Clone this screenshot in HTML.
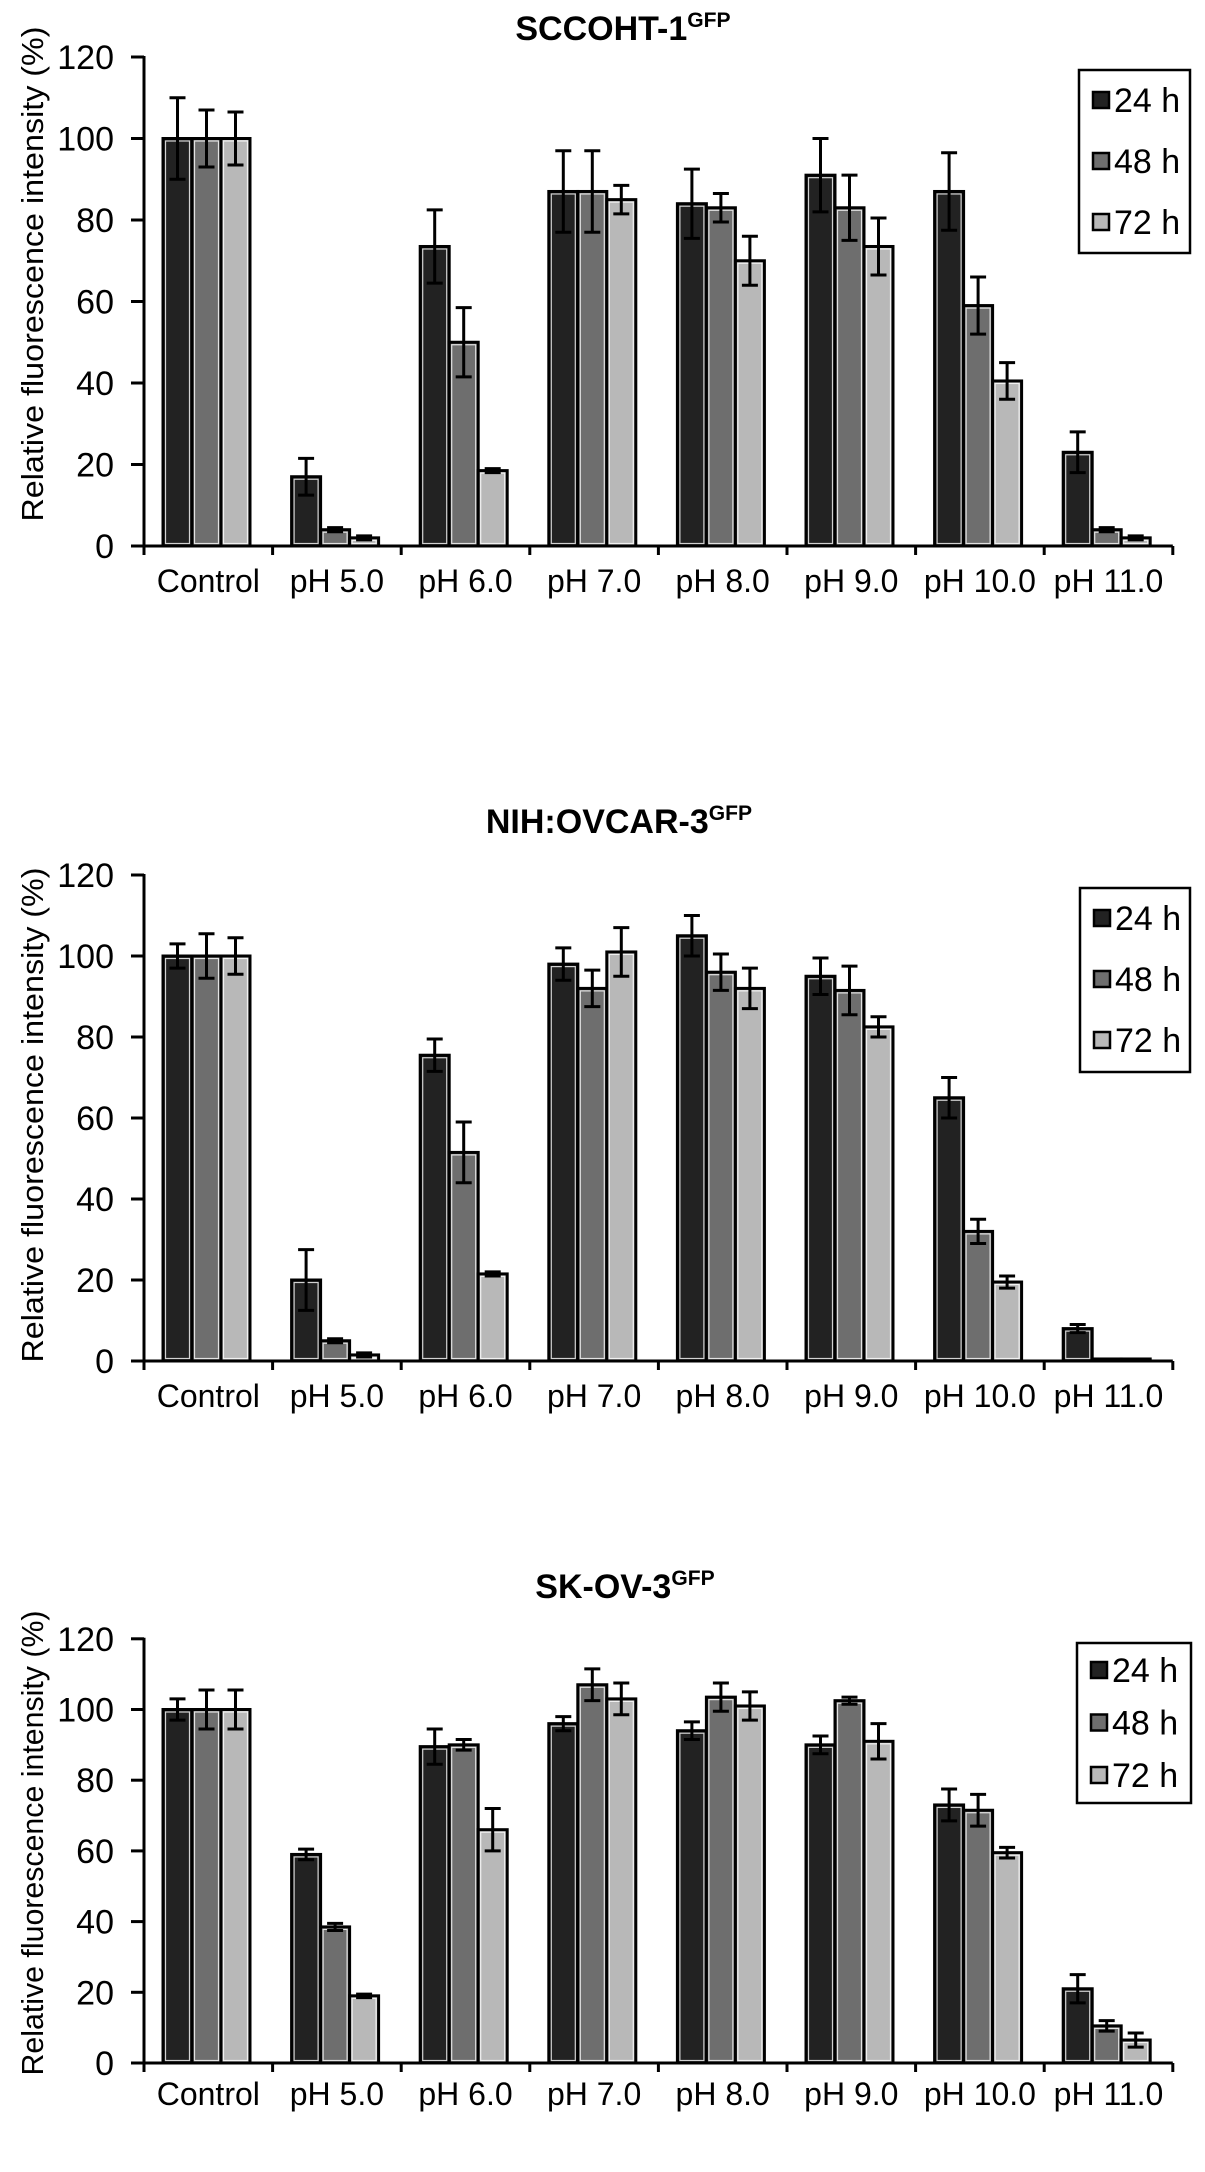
<!DOCTYPE html>
<html><head><meta charset="utf-8"><style>
html,body{margin:0;padding:0;background:#fff;}
svg{display:block;}
text{font-family:"Liberation Sans",Arial,sans-serif;fill:#000;}
</style></head><body>
<svg id="fig" width="1205" height="2172" viewBox="0 0 1205 2172" xmlns="http://www.w3.org/2000/svg"></svg>
<script>
const categories = ["Control","pH 5.0","pH 6.0","pH 7.0","pH 8.0","pH 9.0","pH 10.0","pH 11.0"];
const seriesNames = ["24 h","48 h","72 h"];
const yTicks = [0,20,40,60,80,100,120];
const c1_24 = [100,17,73.5,87,84,91,87,23];
const c1_48 = [100,4,50,87,83,83,59,4];
const c1_72 = [100,2,18.5,85,70,73.5,40.5,2];
const c1_e24 = [10,4.5,9,10,8.5,9,9.5,5];
const c1_e48 = [7,0.5,8.5,10,3.5,8,7,0.5];
const c1_e72 = [6.5,0.5,0.5,3.5,6,7,4.5,0.5];
const c2_24 = [100,20,75.5,98,105,95,65,8];
const c2_48 = [100,5,51.5,92,96,91.5,32,0.5];
const c2_72 = [100,1.5,21.5,101,92,82.5,19.5,0.5];
const c2_e24 = [3,7.5,4,4,5,4.5,5,1];
const c2_e48 = [5.5,0.5,7.5,4.5,4.5,6,3,0];
const c2_e72 = [4.5,0.5,0.5,6,5,2.5,1.5,0];
const c3_24 = [100,59,89.5,96,94,90,73,21];
const c3_48 = [100,38.5,90,107,103.5,102.5,71.5,10.5];
const c3_72 = [100,19,66,103,101,91,59.5,6.5];
const c3_e24 = [3,1.5,5,2,2.5,2.5,4.5,4];
const c3_e48 = [5.5,1,1.5,4.5,4,1,4.5,1.5];
const c3_e72 = [5.5,0.5,6,4.5,4,5,1.5,2];

const NS="http://www.w3.org/2000/svg";
const svg=document.getElementById('fig');
const fills=["#222222","#6e6e6e","#b8b8b8"];
function el(tag,attrs,parent){const e=document.createElementNS(NS,tag);for(const k in attrs)e.setAttribute(k,attrs[k]);(parent||svg).appendChild(e);return e;}

const charts=[
 {key:'c1',title:'SCCOHT-1',tfs:34,tx:623,ty:40,y0:546,unit:4.075,lab:592,ylc:274,yll:495,
  leg:{x:1079,y:70,w:111,h:183,r0:100,dr:61},vals:[c1_24,c1_48,c1_72],errs:[c1_e24,c1_e48,c1_e72]},
 {key:'c2',title:'NIH:OVCAR-3',tfs:34,tx:619,ty:833,y0:1361,unit:4.05,lab:1407,ylc:1115,yll:495,
  leg:{x:1080,y:888,w:110,h:184,r0:918,dr:61},vals:[c2_24,c2_48,c2_72],errs:[c2_e24,c2_e48,c2_e72]},
 {key:'c3',title:'SK-OV-3',tfs:34,tx:625,ty:1598,y0:2063,unit:3.535,lab:2105,ylc:1843,yll:465,
  leg:{x:1077,y:1643,w:114,h:160,r0:1670,dr:52.5},vals:[c3_24,c3_48,c3_72],errs:[c3_e24,c3_e48,c3_e72]}
];
const axX=144, grpW=128.6, barW=29, barOff=19;

charts.forEach(c=>{
  const g=el('g',{});
  
  
  const yS=v=>c.y0-v*c.unit;
  const xG=i=>axX+i*grpW;
  const t=el('text',{x:c.tx,y:c.ty,'text-anchor':'middle','font-size':c.tfs,'font-weight':'bold'},g);
  
  
  t.textContent=c.title;
  const sup=el('tspan',{'font-size':c.tfs*0.62,dy:-c.tfs*0.38},t);
  sup.textContent='GFP';
  const yt=el('text',{x:0,y:0,'text-anchor':'middle','font-size':31,transform:`translate(43,${c.ylc}) rotate(-90)`,textLength:c.yll,lengthAdjust:'spacingAndGlyphs'},g);
  
  
  yt.textContent='Relative fluorescence intensity (%)';
  c.vals.forEach((arr,s)=>{
    arr.forEach((v,i)=>{
      const x=xG(i)+barOff+s*barW, y=yS(v), h=c.y0-y;
      const r=el('rect',{x:x,y:y,width:barW,height:Math.max(h,0.5),fill:fills[s],stroke:'#000','stroke-width':3},g);
      
      
      if(h>6) el('rect',{x:x+2.5,y:y+2.5,width:barW-5,height:h-5,fill:'none',stroke:'#fff','stroke-width':1.2,opacity:0.8},g);
    });
  });
  c.errs.forEach((arr,s)=>{
    arr.forEach((e,i)=>{
      if(e<=0) return;
      const cx=xG(i)+barOff+s*barW+barW/2, v=c.vals[s][i];
      const eb=el('path',{d:`M${cx} ${yS(v+e)}V${yS(Math.max(v-e,0))}M${cx-8} ${yS(v+e)}h16M${cx-8} ${yS(Math.max(v-e,0))}h16`,stroke:'#000','stroke-width':3,fill:'none'},g);
      
      
    });
  });
  const ya=el('line',{x1:axX,y1:yS(120)-1,x2:axX,y2:c.y0+1,stroke:'#000','stroke-width':3},g);
  
  
  yTicks.forEach(v=>{
    el('line',{x1:axX-13,y1:yS(v),x2:axX,y2:yS(v),stroke:'#000','stroke-width':3},g);
    const tl=el('text',{x:114,y:yS(v)+12,'text-anchor':'end','font-size':34},g);
    
    
    tl.textContent=v;
  });
  const xa=el('line',{x1:axX,y1:c.y0,x2:xG(categories.length),y2:c.y0,stroke:'#000','stroke-width':3},g);
  
  
  for(let i=0;i<=categories.length;i++) el('line',{x1:xG(i),y1:c.y0,x2:xG(i),y2:c.y0+9,stroke:'#000','stroke-width':3},g);
  categories.forEach((cat,i)=>{
    const xl=el('text',{x:xG(i)+grpW/2,y:c.lab,'text-anchor':'middle','font-size':32},g);
    
    
    xl.textContent=cat;
  });
  const L=c.leg;
  const lg=el('g',{},g);
  
  
  el('rect',{x:L.x,y:L.y,width:L.w,height:L.h,fill:'#fff',stroke:'#000','stroke-width':2.5},lg);
  seriesNames.forEach((n,s)=>{
    const cy=L.r0+s*L.dr;
    const en=el('g',{},lg);
    
    
    el('rect',{x:L.x+14,y:cy-8,width:16,height:16,fill:fills[s],stroke:'#000','stroke-width':2.5},en);
    const lt=el('text',{x:L.x+35,y:cy+12,'font-size':34},en);
    lt.textContent=n;
  });
});
</script>
</body></html>
